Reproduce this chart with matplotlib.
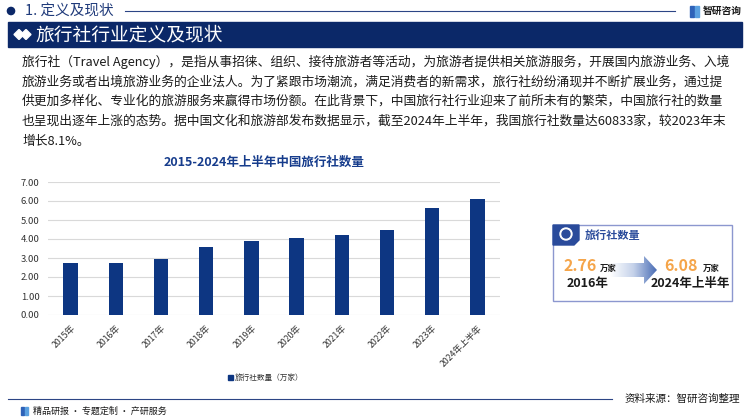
import numpy as np
import matplotlib
matplotlib.use("Agg")
import matplotlib.pyplot as plt
from matplotlib.patches import Rectangle, Polygon, Circle
from matplotlib.colors import LinearSegmentedColormap

plt.rcParams['font.family'] = ['Noto Sans CJK SC', 'DejaVu Sans']

# data (万家)
years = ["2015年", "2016年", "2017年", "2018年", "2019年", "2020年",
         "2021年", "2022年", "2023年", "2024年上半年"]
counts = [2.76, 2.76, 2.93, 3.59, 3.89, 4.04, 4.22, 4.50, 5.63, 6.08]
yticks = [0, 1, 2, 3, 4, 5, 6, 7]

para = [
    "旅行社（Travel Agency），是指从事招徕、组织、接待旅游者等活动，为旅游者提供相关旅游服务，开展国内旅游业务、入境",
    "旅游业务或者出境旅游业务的企业法人。为了紧跟市场潮流，满足消费者的新需求，旅行社纷纷涌现并不断扩展业务，通过提",
    "供更加多样化、专业化的旅游服务来赢得市场份额。在此背景下，中国旅行社行业迎来了前所未有的繁荣，中国旅行社的数量",
    "也呈现出逐年上涨的态势。据中国文化和旅游部发布数据显示，截至2024年上半年，我国旅行社数量达60833家，较2023年末",
    "增长8.1%。",
]

NAVY = "#0b2868"
BAR = "#0d3682"
ORANGE = "#f5a54a"

W, H = 750, 420
fig = plt.figure(figsize=(7.5, 4.2), dpi=100)
fig.patch.set_facecolor("white")

# overlay axes in pixel coordinates (y down)
ov = fig.add_axes([0, 0, 1, 1])
ov.set_xlim(0, W)
ov.set_ylim(H, 0)
ov.axis("off")
ov.patch.set_alpha(0)

# header
ov.add_patch(Circle((11, 11), 3.6, color=NAVY))
ov.text(25, 11, "1. 定义及现状", fontsize=10.5, color="#1f3a7a", va="center", ha="left")
ov.plot([125, 675], [11, 11], color="#2c4585", lw=0.8)
ov.add_patch(Rectangle((690, 6), 4, 11, color="#2e62b8"))
ov.add_patch(Rectangle((695, 6), 4, 11, color="#5aa0e0"))
ov.text(742, 11, "智研咨询", fontsize=7, fontweight="bold", color="#1a1a1a", va="center", ha="right")

ov.add_patch(Rectangle((8, 22), 734, 25, color=NAVY))
ov.add_patch(Polygon([[14, 34.5], [19, 29.5], [24, 34.5], [19, 39.5]], color="white"))
ov.add_patch(Polygon([[21, 34.5], [26, 29.5], [31, 34.5], [26, 39.5]], color="white"))
ov.text(35, 34.5, "旅行社行业定义及现状", fontsize=13.5, color="white", va="center", ha="left")

# paragraph
for i, line in enumerate(para):
    ov.text(22, 62 + i * 19.8, line, fontsize=9.2, color="#1a1a1a", va="center", ha="left")

# chart
ov.text(264, 162, "2015-2024年上半年中国旅行社数量", fontsize=9, fontweight="bold",
        color="#163c8c", va="center", ha="center")

ax = fig.add_axes([48 / W, 1 - 315 / H, (500 - 48) / W, (315 - 182) / H])
x = np.arange(len(years))
ax.bar(x, counts, width=0.32, color=BAR, zorder=3)
ax.set_xlim(-0.5, len(years) - 0.5)
ax.set_ylim(0, 7)
ax.set_yticks(yticks)
ax.set_yticklabels([f"{v:.2f}" for v in yticks], fontsize=6.8, color="#333333")
ax.set_xticks(x)
ax.set_xticklabels(years, fontsize=6.3, color="#333333", rotation=45,
                   ha="right", rotation_mode="anchor")
ax.tick_params(length=0, pad=6)
ax.grid(axis="y", color="#d9d9d9", lw=0.8, zorder=0)
for s in ax.spines.values():
    s.set_visible(False)
ax.patch.set_alpha(0)

# legend
ov.add_patch(Rectangle((228, 375), 5, 5, color=BAR))
ov.text(235, 377.5, "旅行社数量（万家）", fontsize=5.5, color="#333333", va="center", ha="left")

# footer
ov.plot([8, 612], [399, 399], color="#2c4585", lw=0.8)
ov.text(740, 399, "资料来源：智研咨询整理", fontsize=7.6, color="#1a1a1a", va="center", ha="right")
ov.add_patch(Rectangle((21, 407), 3, 8, color="#2e62b8"))
ov.add_patch(Rectangle((25, 407), 3, 8, color="#5aa0e0"))
ov.text(33, 411, "精品研报 · 专题定制 · 产研服务", fontsize=6.5, color="#1a1a1a", va="center", ha="left")

# callout box
ov.add_patch(Rectangle((553, 225), 179, 76, fill=False, ec="#8c97cf", lw=1.0))
ov.add_patch(Polygon([[553, 225], [579, 225], [579, 240], [574, 245], [553, 245]], color="#2a4b9b"))
ov.add_patch(Circle((566, 234), 6, color="white"))
ov.add_patch(Circle((566, 234), 4, color="#2a4b9b"))
ov.text(585, 235, "旅行社数量", fontsize=8, fontweight="bold", color="#2a4b9b", va="center", ha="left")

ov.text(580, 266, f"{counts[1]:.2f}", fontsize=11.5, fontweight="bold", color=ORANGE, va="center", ha="center")
ov.text(600, 268, "万家", fontsize=6, fontweight="bold", color="#1a1a1a", va="center", ha="left")
ov.text(588, 284, "2016年", fontsize=9, fontweight="bold", color="#1a1a1a", va="center", ha="center")

ov.text(681, 266, f"{counts[-1]:.2f}", fontsize=11.5, fontweight="bold", color=ORANGE, va="center", ha="center")
ov.text(703, 268, "万家", fontsize=6, fontweight="bold", color="#1a1a1a", va="center", ha="left")
ov.text(690, 284, "2024年上半年", fontsize=9, fontweight="bold", color="#1a1a1a", va="center", ha="center")

# gradient arrow
arrow = Polygon([[610, 263], [644, 263], [644, 256], [657, 270], [644, 284], [644, 277], [610, 277]],
                closed=True, facecolor="none", edgecolor="none")
ov.add_patch(arrow)
cmap = LinearSegmentedColormap.from_list("arr", ["#ffffff", "#c5d2ea", "#4a6db5"])
grad = np.linspace(0, 1, 100).reshape(1, -1)
im = ov.imshow(grad, cmap=cmap, extent=[610, 657, 284, 256], aspect="auto", zorder=2)
im.set_clip_path(arrow)
ov.set_xlim(0, W)
ov.set_ylim(H, 0)

fig.savefig("out.png", dpi=100)
